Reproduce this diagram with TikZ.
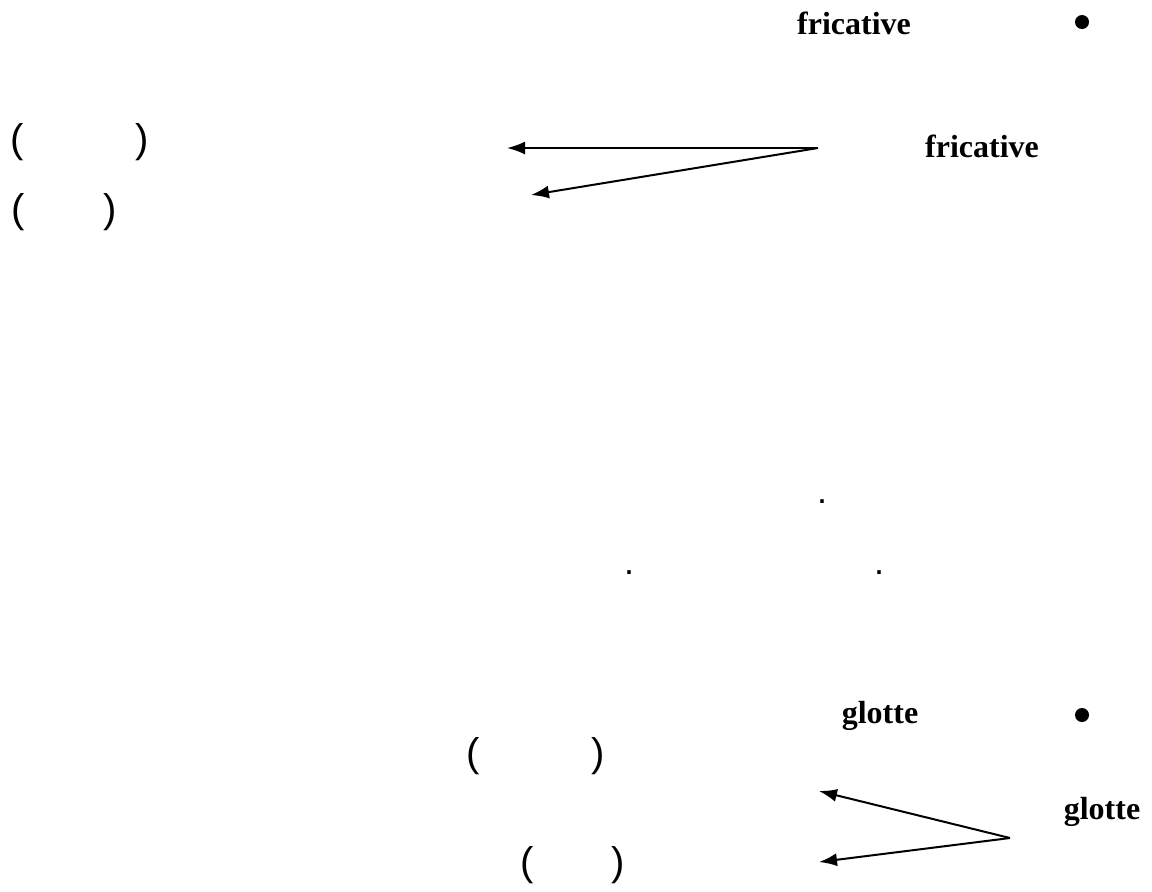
\documentclass[tikz,border=0pt]{standalone}
\usepackage{fontspec}
\setmainfont{Liberation Serif}
\newfontfamily\parfont{Liberation Sans}
\usetikzlibrary{arrows.meta}

\begin{document}
\begin{tikzpicture}[x=0.5pt, y=-0.5pt, >={Latex[length=9pt,width=6.5pt]}]

% --- Styles ---
\tikzset{
    word/.style={font=\fontsize{16}{19}\selectfont\bfseries, inner sep=0pt},
    bracket/.style={font=\parfont\fontsize{20}{24}\selectfont, inner sep=0pt},
    stop/.style={font=\parfont\fontsize{18}{22}\selectfont, inner sep=0pt},
    bullet/.style={circle, fill=black, inner sep=0pt, minimum size=7pt},
    arrow/.style={->, line width=1pt}
}

    \useasboundingbox (0,0) rectangle (1152,891);

    % Bovenste blok: fricative
    \node[word] (fricA) at (854, 23) {fricative};
    \node[bullet] (dotA) at (1082, 22) {};

    \node[bracket] (lpA) at (17, 142) {(};
    \node[bracket] (rpA) at (142, 142) {)};
    \node[bracket] (lpB) at (18, 212) {(};
    \node[bracket] (rpB) at (110, 212) {)};

    \node[word] (fricB) at (982, 146) {fricative};
    \coordinate (fs) at (818, 148);
    \coordinate (fa1) at (507, 148);
    \coordinate (fa2) at (531, 195);
    \draw[arrow] (fs) -- (fa1);
    \draw[arrow] (fs) -- (fa2);

    % Punten in het midden
    \node[stop] (p1) at (822, 502) {.};
    \node[stop] (p2) at (629, 573) {.};
    \node[stop] (p3) at (879, 573) {.};

    % Onderste blok: glotte
    \node[word] (glotA) at (880, 716) {glotte};
    \node[bullet] (dotB) at (1082, 715) {};

    \node[bracket] (lpC) at (473, 756) {(};
    \node[bracket] (rpC) at (598, 756) {)};
    \node[bracket] (lpD) at (527, 865) {(};
    \node[bracket] (rpD) at (618, 865) {)};

    \node[word] (glotB) at (1102, 812) {glotte};
    \coordinate (gs) at (1010, 838);
    \coordinate (ga1) at (819, 791);
    \coordinate (ga2) at (819, 862);
    \draw[arrow] (gs) -- (ga1);
    \draw[arrow] (gs) -- (ga2);

\end{tikzpicture}
\end{document}
